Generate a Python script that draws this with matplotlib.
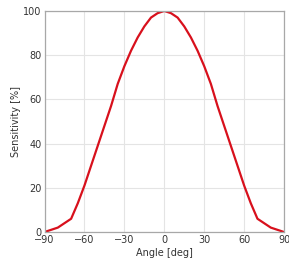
import matplotlib
matplotlib.use('Agg')
import matplotlib.pyplot as plt

# angle response
angles = [-90, -80, -70, -65, -60, -55, -50, -45, -40, -35, -30, -25, -20, -15, -10, -5, 0,
          5, 10, 15, 20, 25, 30, 35, 40, 45, 50, 55, 60, 65, 70, 80, 90]
sensitivity = [0, 2, 6, 13, 21, 30, 39, 48, 57, 67, 75, 82, 88, 93, 97, 99, 100,
               99, 97, 93, 88, 82, 75, 67, 57, 48, 39, 30, 21, 13, 6, 2, 0]
xticks = [-90, -60, -30, 0, 30, 60, 90]
yticks = [0, 20, 40, 60, 80, 100]

fig = plt.figure(figsize=(2.89, 2.67), dpi=100)
ax = fig.add_axes([0.154, 0.131, 0.829, 0.828])
ax.plot(angles, sensitivity, color='#d8101c', lw=1.6, solid_joinstyle='round')

ax.set_xlim(-90, 90)
ax.set_ylim(0, 100)
ax.set_xticks(xticks)
ax.set_yticks(yticks)
ax.grid(True, color='#e4e4e4', lw=0.8)
ax.set_axisbelow(True)
for s in ax.spines.values():
  s.set_color('#a8a8a8')
  s.set_linewidth(0.9)
ax.tick_params(length=0, labelsize=7, colors='#333333', pad=2)
ax.set_xlabel('Angle [deg]', fontsize=7, color='#333333', labelpad=2)
ax.set_ylabel('Sensitivity [%]', fontsize=7, color='#333333', labelpad=2)

plt.savefig('out.png', dpi=100)
plt.close('all')
